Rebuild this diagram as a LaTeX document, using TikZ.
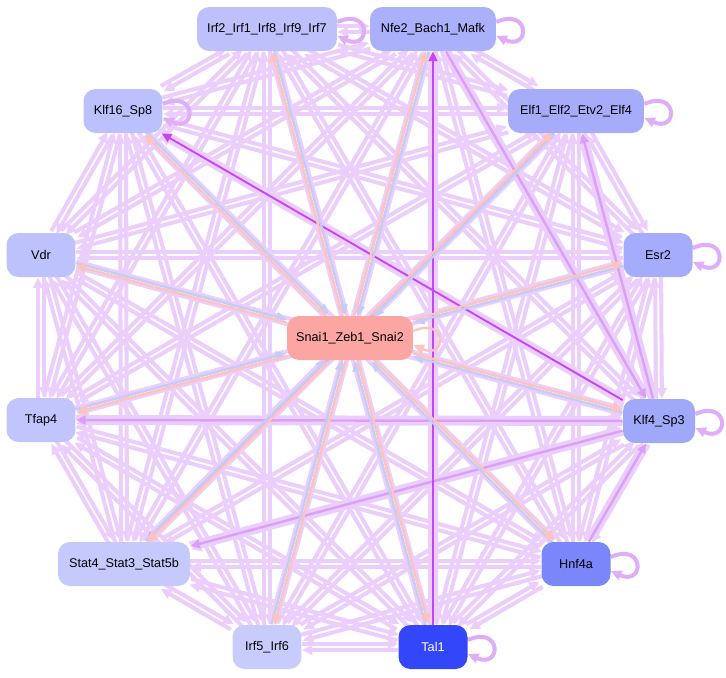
\documentclass[tikz,border=0pt]{standalone}
\usepackage{fontspec}
\setmainfont{Liberation Sans}
\usetikzlibrary{arrows.meta,backgrounds}
\definecolor{regpale}{RGB}{236,206,252}
\definecolor{regmid}{RGB}{218,160,248}
\definecolor{regdark}{RGB}{196,70,246}
\definecolor{toblue}{RGB}{196,204,250}
\definecolor{fromsalmon}{RGB}{252,196,188}
\tikzset{
  gene/.style={rounded corners=0.24cm, minimum height=0.88cm, inner sep=2pt,
    font=\fontsize{7.2}{8.6}\selectfont},
  reg/.style={draw=regpale, line width=2.3pt, -{Triangle[length=6pt,width=5.5pt]}},
  regm/.style={draw=regmid, line width=1.4pt, -{Triangle[length=5.5pt,width=5pt]}},
  regd/.style={draw=regdark, line width=1.1pt, -{Triangle[length=5.5pt,width=5pt]}},
  tosnai/.style={draw=toblue, line width=1.4pt, -{Triangle[length=6pt,width=5.5pt]}},
  fromsnai/.style={draw=fromsalmon, line width=1.4pt, -{Triangle[length=6pt,width=5.5pt]}}
}
\begin{document}
\begin{tikzpicture}[x=0.02cm, y=-0.02cm]
	%%%%% START %%%%%
	\useasboundingbox (0,0) rectangle (726,677);

	\node[gene, fill={rgb,255:red,190;green,192;blue,252}, minimum width=2.8cm] (irf) at (267,29) {Irf2\_Irf1\_Irf8\_Irf9\_Irf7};
	\node[gene, fill={rgb,255:red,170;green,176;blue,250}, minimum width=2.52cm] (nfe) at (433,29) {Nfe2\_Bach1\_Mafk};
	\node[gene, fill={rgb,255:red,188;green,192;blue,252}, minimum width=1.58cm] (klfa) at (123,111) {Klf16\_Sp8};
	\node[gene, fill={rgb,255:red,166;green,172;blue,250}, minimum width=2.72cm] (elf) at (576,111) {Elf1\_Elf2\_Etv2\_Elf4};
	\node[gene, fill={rgb,255:red,190;green,194;blue,252}, minimum width=1.38cm] (vdr) at (41,255) {Vdr};
	\node[gene, fill={rgb,255:red,166;green,172;blue,252}, minimum width=1.38cm] (esr) at (658,255) {Esr2};
	\node[gene, fill={rgb,255:red,252;green,166;blue,164}, minimum width=2.52cm] (snai) at (350,338) {Snai1\_Zeb1\_Snai2};
	\node[gene, fill={rgb,255:red,193;green,197;blue,252}, minimum width=1.38cm] (tfap) at (41,420) {Tfap4};
	\node[gene, fill={rgb,255:red,160;green,168;blue,250}, minimum width=1.44cm] (klfb) at (659,421) {Klf4\_Sp3};
	\node[gene, fill={rgb,255:red,197;green,201;blue,252}, minimum width=2.64cm] (stat) at (124,564) {Stat4\_Stat3\_Stat5b};
	\node[gene, fill={rgb,255:red,122;green,134;blue,250}, minimum width=1.38cm] (hnf) at (576,564) {Hnf4a};
	\node[gene, fill={rgb,255:red,200;green,204;blue,252}, minimum width=1.38cm] (irfb) at (267,647) {Irf5\_Irf6};
	\node[gene, fill={rgb,255:red,52;green,70;blue,250}, text=white, minimum width=1.38cm] (tal) at (433,647) {Tal1};

	\begin{scope}[on background layer]
	% every pair of outer genes, both ways, side by side
	\foreach \a [count=\i] in {irf,nfe,klfa,elf,vdr,esr,tfap,klfb,stat,hnf,irfb,tal}{
		\foreach \b [count=\j] in {irf,nfe,klfa,elf,vdr,esr,tfap,klfb,stat,hnf,irfb,tal}{
			\ifnum\i<\j
				\pgfmathanglebetweenpoints{\pgfpointanchor{\a}{center}}{\pgfpointanchor{\b}{center}}
				\let\ang\pgfmathresult
				\draw[reg, transform canvas={shift={(\ang+90:1.7pt)}}] (\a) -- (\b);
				\draw[reg, transform canvas={shift={(\ang-90:1.7pt)}}] (\b) -- (\a);
			\fi
		}
	}

	% stronger links
	\draw[regm] (klfb) -- (tfap);
	\draw[regm] (klfb) -- (stat);
	\draw[regm] (elf) -- (stat);
	\draw[regm] (hnf) -- (klfb);
	\draw[regm] (klfb) -- (elf);
	\draw[regm] (nfe) -- (klfb);
	\draw[regd] (klfb) -- (klfa);
	\draw[regd] (tal) -- (nfe);

	% links with Snai1_Zeb1_Snai2
	\foreach \a in {irf,nfe,klfa,elf,vdr,esr,tfap,klfb,stat,hnf,irfb,tal}{
		\pgfmathanglebetweenpoints{\pgfpointanchor{\a}{center}}{\pgfpointanchor{snai}{center}}
		\let\ang\pgfmathresult
		\draw[tosnai, transform canvas={shift={(\ang+90:0.8pt)}}] (\a) -- (snai);
		\draw[fromsnai, transform canvas={shift={(\ang-90:0.8pt)}}] (snai) -- (\a);
	}

	% self loops
	\foreach \a in {irf,nfe,klfa,elf,esr,klfb,hnf,tal}{
		\draw[reg, draw=regmid!70!regpale] ([yshift=4pt]\a.east) .. controls +(34,-15) and +(34,15) .. ([yshift=-4pt]\a.east);
	}
	\draw[fromsnai] ([yshift=4pt]snai.east) .. controls +(34,-15) and +(34,15) .. ([yshift=-4pt]snai.east);
	\end{scope}
	%%%%% END %%%%%
\end{tikzpicture}
\end{document}
